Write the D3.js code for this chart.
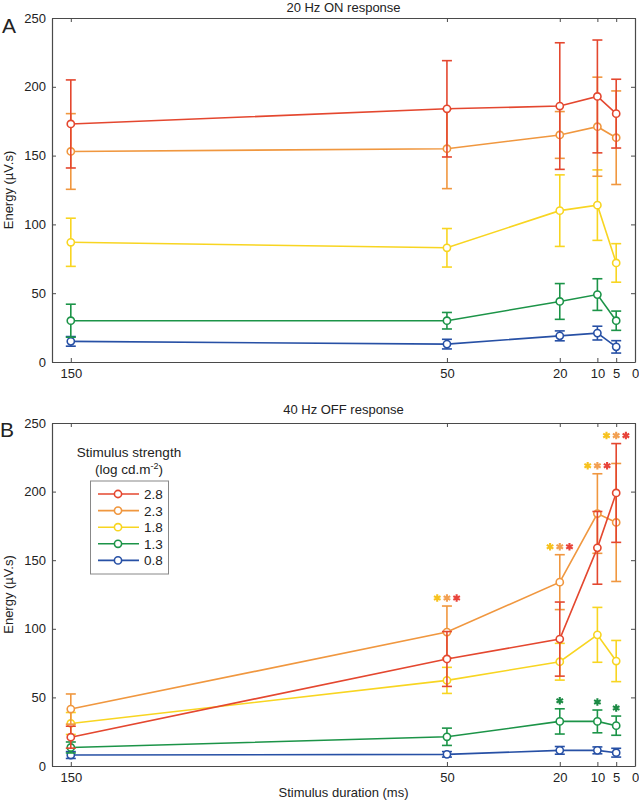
<!DOCTYPE html>
<html>
<head>
<meta charset="utf-8">
<script src="https://cdn.jsdelivr.net/npm/d3@7"></script>
<style>
  html, body { margin: 0; padding: 0; background: #fff; }
  svg { display: block; font-family: "Liberation Sans", Arial, Helvetica, sans-serif; }
</style>
</head>
<body>
<svg id="chart" width="639" height="801"></svg>
<script>
// ---------- data ----------
const durations = [150, 50, 20, 10, 5];            // stimulus duration (ms)
const xTickValues = [150, 50, 20, 10, 5, 0];
const yTickValues = [0, 50, 100, 150, 200, 250];
const strengths = ["2.8", "2.3", "1.8", "1.3", "0.8"]; // log cd.m-2
const seriesColors = ["#e4472f", "#f0973f", "#f8d521", "#1c9448", "#2750a5"];

// 20 Hz ON response (mean, error), rows follow strengths
const onMean = [
  [173, 184, 186, 193, 180.5],
  [153, 155, 165, 171, 163],
  [87, 83, 110, 114, 72],
  [30, 30, 44, 49, 30],
  [15, 13, 19, 21, 11]
];
const onErr = [
  [32, 35, 46, 41, 25],
  [27.5, 29, 17, 36, 34],
  [17.5, 14, 26, 25.6, 14],
  [12, 6, 13, 11.5, 7],
  [3.5, 3.5, 3.6, 5, 4.5]
];

// 40 Hz OFF response
const offMean = [
  [21, 78, 92.5, 159, 199],
  [41.5, 97.6, 134, 184, 177.5],
  [31, 62.4, 76, 95.6, 76.5],
  [13.5, 21.3, 32.5, 32.5, 29.4],
  [8, 8.5, 11.4, 11.4, 9.7]
];
const offErr = [
  [8, 20, 27, 26.5, 36],
  [11, 19, 20, 29, 43],
  [8, 9.5, 13.4, 20, 15],
  [4, 6.3, 9.2, 8.3, 7],
  [2.5, 2, 2.8, 2.5, 3.2]
];

// significance markers (OFF panel): duration, series drawn as asterisks
const sigDurations = [50, 20, 10, 5];
const sigTripleSeries = ["1.8", "2.3", "2.8"];
const sigGreenDurations = [20, 10, 5];
const asteriskColors = { "1.8": "#f7c21e", "2.3": "#f2a052", "2.8": "#e8433a", "1.3": "#1c8a44" };

// ---------- layout ----------
const svg = d3.select("#chart");
const W = 639, H = 801;
svg.append("rect").attr("width", W).attr("height", H).attr("fill", "#fff");
const left = 52, right = 635;
const FONT = 13;

const x = d3.scaleLinear().domain([155, 0]).range([left, right]);

function drawPanel(cfg) {
  const y = d3.scaleLinear().domain([0, 250]).range([cfg.bottom, cfg.top]);
  const g = svg.append("g");

  // axes
  const axB = g.append("g").attr("transform", `translate(0,${cfg.bottom})`)
    .call(d3.axisBottom(x).tickValues(xTickValues).tickFormat(d3.format("d"))
      .tickSizeInner(-4).tickSizeOuter(0).tickPadding(7));
  const axT = g.append("g").attr("transform", `translate(0,${cfg.top})`)
    .call(d3.axisTop(x).tickValues(xTickValues).tickFormat("")
      .tickSizeInner(-4).tickSizeOuter(0));
  const axL = g.append("g").attr("transform", `translate(${left},0)`)
    .call(d3.axisLeft(y).tickValues(yTickValues)
      .tickSizeInner(-4).tickSizeOuter(0).tickPadding(6));
  const axR = g.append("g").attr("transform", `translate(${right},0)`)
    .call(d3.axisRight(y).tickValues(yTickValues).tickFormat("")
      .tickSizeInner(-4).tickSizeOuter(0));
  [axB, axT, axL, axR].forEach(a => {
    a.selectAll("path.domain").attr("stroke", "#4a4a4a").attr("stroke-width", 1.2);
    a.selectAll(".tick line").attr("stroke", "#4a4a4a").attr("stroke-width", 1);
    a.selectAll("text").attr("font-size", FONT).attr("fill", "#222")
      .attr("font-family", "Liberation Sans, Arial, sans-serif");
  });

  // title
  g.append("text").attr("x", (left + right) / 2).attr("y", cfg.titleY)
    .attr("text-anchor", "middle").attr("font-size", FONT).attr("fill", "#222")
    .text(cfg.title);
  // panel letter
  g.append("text").attr("x", cfg.letterX).attr("y", cfg.letterY)
    .attr("font-size", 21).attr("fill", "#222").text(cfg.letter);
  // y label
  g.append("text")
    .attr("transform", `translate(12.5,${(cfg.top + cfg.bottom) / 2}) rotate(-90)`)
    .attr("text-anchor", "middle").attr("font-size", FONT).attr("fill", "#222")
    .text("Energy (µV.s)");

  // series, drawn from weakest to strongest so 2.8 is on top
  const line = d3.line().x(d => x(d.dur)).y(d => y(d.v));
  for (let s = strengths.length - 1; s >= 0; s--) {
    const color = seriesColors[s];
    const pts = durations.map((dur, i) => ({ dur, v: cfg.mean[s][i], e: cfg.err[s][i] }));
    const sg = g.append("g");
    sg.append("path").datum(pts).attr("d", line)
      .attr("fill", "none").attr("stroke", color).attr("stroke-width", 1.6);
    const eb = sg.selectAll("g.eb").data(pts).join("g");
    eb.append("line")
      .attr("x1", d => x(d.dur)).attr("x2", d => x(d.dur))
      .attr("y1", d => y(d.v - d.e)).attr("y2", d => y(d.v + d.e))
      .attr("stroke", color).attr("stroke-width", 1.6);
    [1, -1].forEach(k => {
      eb.append("line")
        .attr("x1", d => x(d.dur) - 5).attr("x2", d => x(d.dur) + 5)
        .attr("y1", d => y(d.v + k * d.e)).attr("y2", d => y(d.v + k * d.e))
        .attr("stroke", color).attr("stroke-width", 1.6);
    });
    sg.selectAll("circle").data(pts).join("circle")
      .attr("cx", d => x(d.dur)).attr("cy", d => y(d.v)).attr("r", 3.6)
      .attr("fill", "#fff").attr("stroke", color).attr("stroke-width", 1.6);
  }
  return { g, y };
}

// Panel A
drawPanel({ top: 18, bottom: 362, title: "20 Hz ON response", titleY: 12,
  letter: "A", letterX: 2, letterY: 33, mean: onMean, err: onErr });

// Panel B
const pB = drawPanel({ top: 423, bottom: 766, title: "40 Hz OFF response", titleY: 414,
  letter: "B", letterX: 0, letterY: 437, mean: offMean, err: offErr });

// x-axis label
svg.append("text").attr("x", (left + right) / 2).attr("y", 797)
  .attr("text-anchor", "middle").attr("font-size", FONT).attr("fill", "#222")
  .text("Stimulus duration (ms)");

// significance asterisks
const ast = d3.symbol().type(d3.symbolAsterisk).size(40);
function topOf(seriesList, dur) {
  const i = durations.indexOf(dur);
  return d3.max(seriesList, s => {
    const k = strengths.indexOf(s);
    return offMean[k][i] + offErr[k][i];
  });
}
sigDurations.forEach(dur => {
  const yy = pB.y(topOf(["2.3", "2.8"], dur)) - 8;
  sigTripleSeries.forEach((s, j) => {
    pB.g.append("path").attr("d", ast)
      .attr("transform", `translate(${x(dur) + (j - 1) * 9.7},${yy})`)
      .attr("fill", "none").attr("stroke", asteriskColors[s]).attr("stroke-width", 2.1);
  });
});
sigGreenDurations.forEach(dur => {
  const yy = pB.y(topOf(["1.3"], dur)) - 8;
  pB.g.append("path").attr("d", ast)
    .attr("transform", `translate(${x(dur)},${yy})`)
    .attr("fill", "none").attr("stroke", asteriskColors["1.3"]).attr("stroke-width", 2.1);
});

// legend
const lg = svg.append("g");
lg.append("text").attr("x", 129).attr("y", 457).attr("text-anchor", "middle")
  .attr("font-size", 13.5).attr("fill", "#222").text("Stimulus strength");
const lt = lg.append("text").attr("x", 129).attr("y", 474).attr("text-anchor", "middle")
  .attr("font-size", 13.5).attr("fill", "#222");
lt.append("tspan").text("(log cd.m");
lt.append("tspan").attr("dy", -5).attr("font-size", 9).text("-2");
lt.append("tspan").attr("dy", 5).text(")");
lg.append("rect").attr("x", 90.5).attr("y", 481).attr("width", 78).attr("height", 93)
  .attr("fill", "#fff").attr("stroke", "#888").attr("stroke-width", 1);
strengths.forEach((s, i) => {
  const yy = 494 + i * 16.6;
  lg.append("line").attr("x1", 98).attr("x2", 139).attr("y1", yy).attr("y2", yy)
    .attr("stroke", seriesColors[i]).attr("stroke-width", 1.6);
  lg.append("circle").attr("cx", 118).attr("cy", yy).attr("r", 3.6)
    .attr("fill", "#fff").attr("stroke", seriesColors[i]).attr("stroke-width", 1.6);
  lg.append("text").attr("x", 144).attr("y", yy + 5).attr("font-size", 13.5)
    .attr("fill", "#222").text(s);
});
</script>
</body>
</html>
